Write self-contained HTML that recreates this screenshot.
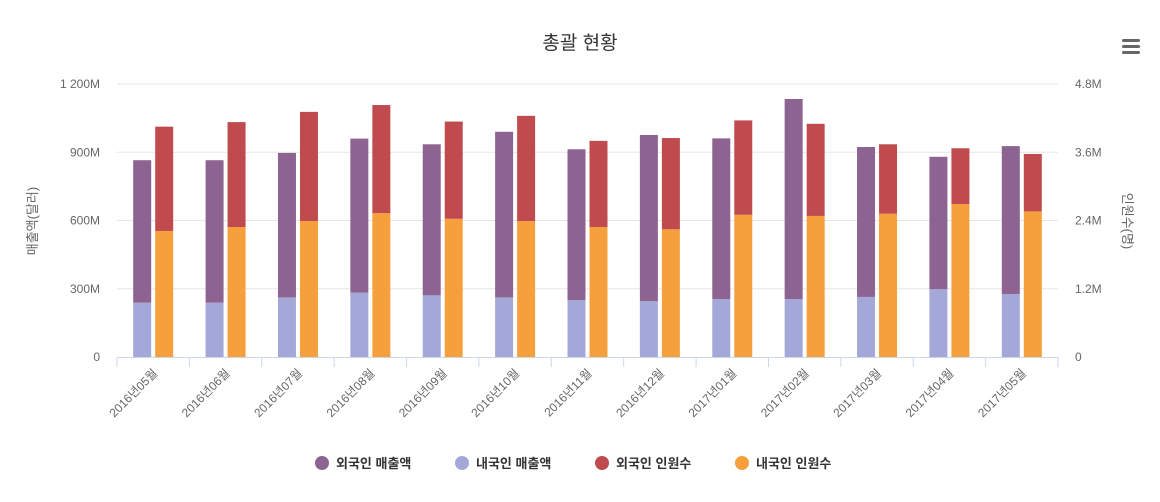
<!DOCTYPE html>
<html><head><meta charset="utf-8"><style>
body{margin:0;background:#fff;}
svg text{font-family:"Liberation Sans","Noto Sans CJK KR",sans-serif;}
</style></head><body>
<svg id="chart" width="1160" height="497" xmlns="http://www.w3.org/2000/svg">
<text x="580" y="49" text-anchor="middle" font-size="19" fill="#333">총괄 현황</text>
<g fill="#666">
<rect x="1122" y="39" width="18" height="3" rx="1.5"/><rect x="1122" y="45" width="18" height="3" rx="1.5"/><rect x="1122" y="51" width="18" height="3" rx="1.5"/></g>
<g id="grid"></g><g id="bars"></g><g id="axes"></g>
<text transform="translate(37,221) rotate(-90)" text-anchor="middle" font-size="13" fill="#666">매출액(달러)</text>
<text transform="translate(1123,221) rotate(90)" text-anchor="middle" font-size="13" fill="#666">인원수(명)</text>
<g id="legend"></g>
</svg>
<script>
const categories=["2016년05월","2016년06월","2016년07월","2016년08월","2016년09월","2016년10월","2016년11월","2016년12월","2017년01월","2017년02월","2017년03월","2017년04월","2017년05월"];
const foreignSales=[626,626,635,677,664,728,663,731,706,879,659,582,650];
const domesticSales=[239,239,262,283,271,262,250,245,255,255,264,298,277];
const foreignPeople=[1.834,1.844,1.92,1.90,1.71,1.85,1.514,1.605,1.66,1.62,1.22,0.98,1.01];
const domesticPeople=[2.216,2.286,2.39,2.53,2.43,2.39,2.286,2.245,2.50,2.48,2.52,2.69,2.56];
const leftTicks=[0,300,600,900,1200];
const leftLabels=["0","300M","600M","900M","1 200M"];
const rightLabels=["0","1.2M","2.4M","3.6M","4.8M"];
const seriesNames=["외국인 매출액","내국인 매출액","외국인 인원수","내국인 인원수"];
const colors=["#8c6391","#a3a8d8","#c04b4e","#f5a03c"];

const NS="http://www.w3.org/2000/svg";
const L=117,R=1058,T=84,B=357;
const yL=v=>B-(v/1200)*(B-T);
const yR=v=>B-(v/4.8)*(B-T);
const step=(R-L)/categories.length;
const cx=i=>L+step*(i+0.5);
function mk(tag,attrs,parent,txt){const e=document.createElementNS(NS,tag);for(const k in attrs)e.setAttribute(k,attrs[k]);if(txt!=null)e.textContent=txt;parent.appendChild(e);return e;}
const grid=document.getElementById('grid'),bars=document.getElementById('bars'),axes=document.getElementById('axes'),legend=document.getElementById('legend');
leftTicks.forEach((t,i)=>{
  const y=yL(t);
  if(i>0){const g=mk('line',{x1:L,x2:R,y1:y,y2:y,stroke:'#e6e6e6','stroke-width':1},grid);
  
  }
  const a=mk('text',{x:100,y:y+4,'text-anchor':'end','font-size':12,fill:'#666'},axes,leftLabels[i]);
  
  
  const b=mk('text',{x:1075,y:y+4,'text-anchor':'start','font-size':12,fill:'#666'},axes,rightLabels[i]);
  
  
});
const W=18;
categories.forEach((c,i)=>{
  const x1=cx(i)-11-W/2,x2=cx(i)+11-W/2;
  const segs=[[x1,yL(domesticSales[i]),yL(0),colors[1],'bar-domestic-sales'],
    [x1,yL(domesticSales[i]+foreignSales[i]),yL(domesticSales[i]),colors[0],'bar-foreign-sales'],
    [x2,yR(domesticPeople[i]),yR(0),colors[3],'bar-domestic-people'],
    [x2,yR(domesticPeople[i]+foreignPeople[i]),yR(domesticPeople[i]),colors[2],'bar-foreign-people']];
  segs.forEach(s=>{const r=mk('rect',{x:s[0],y:s[1],width:W,height:s[2]-s[1],fill:s[3]},bars);
    
    });
  const tk=mk('line',{x1:L+step*i,x2:L+step*i,y1:B,y2:B+10,stroke:'#ccd6eb'},axes);
  
  
  const t=mk('text',{transform:`translate(${cx(i)+5},${B+17}) rotate(-45)`,'text-anchor':'end','font-size':12,fill:'#666'},axes,c);
  
  
});
const last=mk('line',{x1:R,x2:R,y1:B,y2:B+10,stroke:'#ccd6eb'},axes);


const ax=mk('line',{x1:L,x2:R,y1:B+0.5,y2:B+0.5,stroke:'#ccd6eb'},axes);


const lx=[322,462,602,742];
seriesNames.forEach((n,i)=>{
  const g=mk('g',{},legend);
  
  
  mk('circle',{cx:lx[i],cy:463,r:7,fill:colors[i]},g);
  mk('text',{x:lx[i]+14,y:468,'font-size':13,'font-weight':'bold',fill:'#333'},g,n);
});
</script>
</body></html>
